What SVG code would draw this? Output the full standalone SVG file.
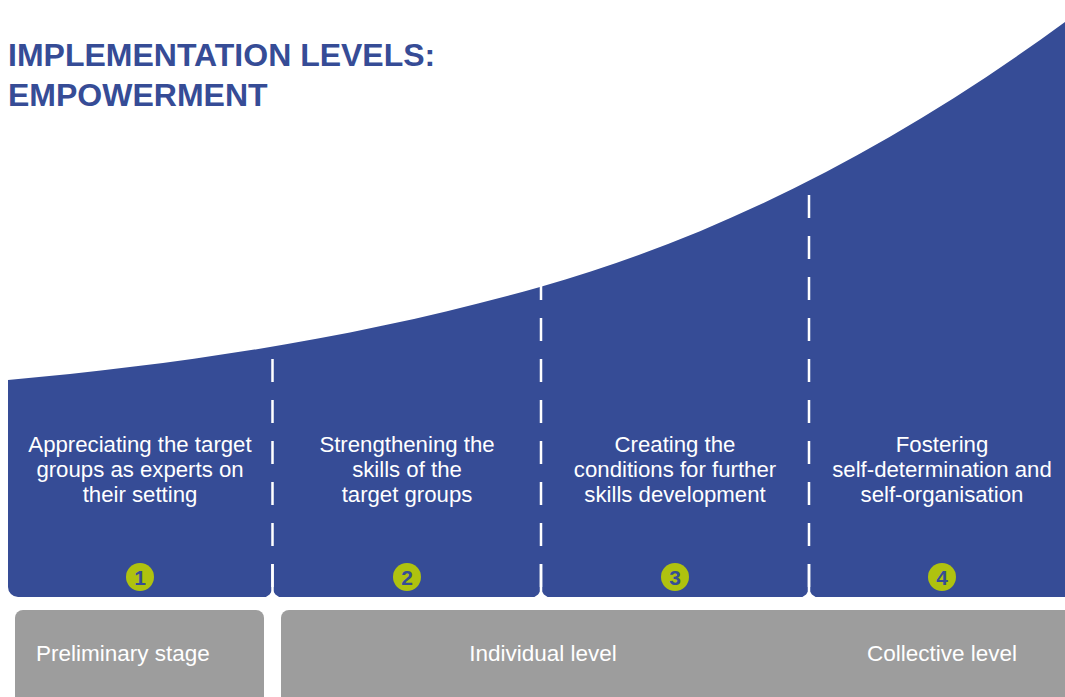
<svg xmlns="http://www.w3.org/2000/svg" width="1065" height="697" viewBox="0 0 1065 697">
<style>
.title{font-family:"Liberation Sans",Arial,sans-serif;font-weight:bold;font-size:32px;fill:#364c96}
.ptxt{font-family:"Liberation Sans",Arial,sans-serif;font-size:22.2px;fill:#ffffff;text-anchor:middle}
.num{font-family:"Liberation Sans",Arial,sans-serif;font-weight:bold;font-size:21px;fill:#364c96;text-anchor:middle}
.badge{fill:#afc20f}
.gray{fill:#9d9d9d}
.gtxt{font-family:"Liberation Sans",Arial,sans-serif;font-size:22.5px;fill:#ffffff}
.dash{stroke:#ffffff;stroke-width:2.5;fill:none;stroke-dasharray:23 18}
.solid{stroke:#ffffff;stroke-width:2.5;fill:none}
.notch{fill:#ffffff}
</style>
<rect width="1065" height="697" fill="#ffffff"/>
<g id="title">
<text class="title" x="8" y="66">IMPLEMENTATION LEVELS:</text>
<text class="title" x="8" y="106">EMPOWERMENT</text>
</g>
<g id="curve-shape">
<path d="M8,380 C185.3,364 362.7,337.2 540,287 C715,237.5 890,150 1065,22 L1070,22 L1070,597 L18,597 A10,10 0 0 1 8,587 Z" fill="#364c96"/>
</g>
<g id="connectors">
<path class="dash" d="M272.5,359 V587"/>
<path class="solid" d="M272.5,564 V597"/>
<path class="dash" d="M541,277 V587"/>
<path class="solid" d="M541,564 V597"/>
<path class="dash" d="M809,195 V587"/>
<path class="solid" d="M809,564 V597"/>
<path class="notch" d="M262.5,597.5 A10,10 0 0 0 272.5,587.5 A10,10 0 0 0 282.5,597.5 Z"/>
<path class="notch" d="M531,597.5 A10,10 0 0 0 541,587.5 A10,10 0 0 0 551,597.5 Z"/>
<path class="notch" d="M799,597.5 A10,10 0 0 0 809,587.5 A10,10 0 0 0 819,597.5 Z"/>
</g>
<g id="level1">
<text class="ptxt" x="140" y="452">Appreciating the target</text>
<text class="ptxt" x="140" y="477">groups as experts on</text>
<text class="ptxt" x="140" y="502">their setting</text>
<circle class="badge" cx="140" cy="577" r="14"/>
<text class="num" x="140" y="584.5">1</text>
</g>
<g id="level2">
<text class="ptxt" x="407" y="452">Strengthening the</text>
<text class="ptxt" x="407" y="477">skills of the</text>
<text class="ptxt" x="407" y="502">target groups</text>
<circle class="badge" cx="407" cy="577" r="14"/>
<text class="num" x="407" y="584.5">2</text>
</g>
<g id="level3">
<text class="ptxt" x="675" y="452">Creating the</text>
<text class="ptxt" x="675" y="477">conditions for further</text>
<text class="ptxt" x="675" y="502">skills development</text>
<circle class="badge" cx="675" cy="577" r="14"/>
<text class="num" x="675" y="584.5">3</text>
</g>
<g id="level4">
<text class="ptxt" x="942" y="452">Fostering</text>
<text class="ptxt" x="942" y="477">self-determination and</text>
<text class="ptxt" x="942" y="502">self-organisation</text>
<circle class="badge" cx="942" cy="577" r="14"/>
<text class="num" x="942" y="584.5">4</text>
</g>
<g id="preliminary">
<rect class="gray" x="15" y="610" width="249" height="100" rx="8"/>
<text class="gtxt" x="36" y="661">Preliminary stage</text>
</g>
<g id="individual-collective">
<rect class="gray" x="281" y="610" width="794" height="100" rx="8"/>
<text class="gtxt" x="543" y="661" text-anchor="middle">Individual level</text>
<text class="gtxt" x="942" y="661" text-anchor="middle">Collective level</text>
</g>
</svg>
